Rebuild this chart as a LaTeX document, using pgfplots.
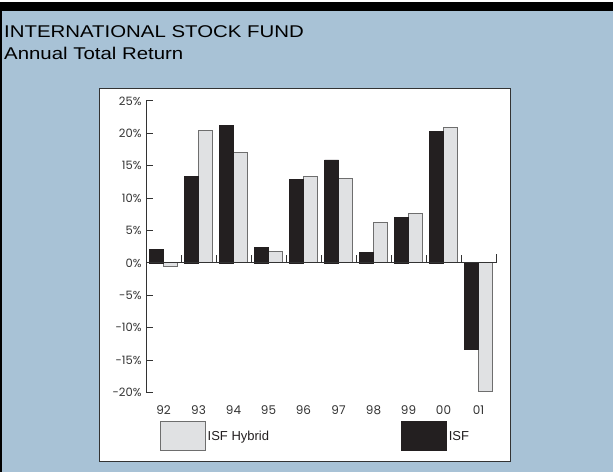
\documentclass[border=0pt]{standalone}
\usepackage{fontspec}
\setmainfont{Liberation Sans}
\newfontfamily\titlefont[FakeStretch=1.2]{Liberation Sans}
\newfontfamily\tickfont{Poppins}
\usepackage{pgfplots}
\pgfplotsset{compat=1.18}
\definecolor{bgblue}{HTML}{A8C2D6}
\definecolor{barblack}{HTML}{231F20}
\definecolor{bargray}{HTML}{E0E1E3}
\definecolor{edgegray}{HTML}{6E6E6E}
\definecolor{axisgray}{HTML}{333333}
\begin{document}
\begin{tikzpicture}[x=1bp,y=1bp]
% background
\fill[white] (0,0) rectangle (613,472);
\fill[bgblue] (0,0) rectangle (613,461);
\fill[black] (0,461) rectangle (613,470);
\fill[black] (0,0) rectangle (2,461);
% title
\node[anchor=base west, inner sep=0pt, font=\titlefont\fontsize{17bp}{18bp}\selectfont] at (4,434) {INTERNATIONAL STOCK FUND};
\node[anchor=base west, inner sep=0pt, font=\titlefont\fontsize{17bp}{18bp}\selectfont] at (4,412) {Annual Total Return};
% panel
\filldraw[fill=white, draw=axisgray, line width=1bp] (99,10) rectangle (510,383);
\begin{axis}[
  at={(146bp,79.4bp)}, anchor=south west,
  scale only axis, width=350bp, height=291.6bp,
  xmin=-0.5, xmax=9.5, ymin=-20, ymax=25,
  axis y line*=left, axis x line*=bottom,
  x axis line style={draw=none},
  y axis line style={draw=axisgray, line width=1bp},
  xtick={0,...,9},
  xticklabels={92,93,94,95,96,97,98,99,00,01},
  xtick style={draw=none},
  ytick={-20,-15,...,25},
  ytick style={draw=axisgray, line width=1bp},
  tick align=inside, major tick length=7bp,
  /pgf/number format/assume math mode=true,
  yticklabel={\pgfmathprintnumber{\tick}\%},
  yticklabel style={font=\tickfont\fontsize{11.5bp}{12bp}\selectfont, text=axisgray, xshift=-1bp},
  xticklabel style={font=\tickfont\fontsize{12bp}{13bp}\selectfont, text=axisgray, yshift=-3bp},
  ybar, bar width=14bp,
  clip=false,
  legend columns=2,
  legend style={draw=none, fill=none, at={(0.03,-0.15)}, anchor=west,
    font=\fontsize{13bp}{14bp}\selectfont, text=barblack,
    /tikz/every even column/.append style={column sep=130bp}},
  legend image code/.code={\draw[#1] (0bp,-14.5bp) rectangle (45bp,14.5bp);},
]
\addplot[bar shift=7bp, fill=bargray, draw=edgegray, line width=1bp] coordinates {
 (0,-0.6) (1,20.4) (2,17.1) (3,1.8) (4,13.4) (5,13.0) (6,6.2) (7,7.7) (8,20.9) (9,-19.9)};
\addlegendentry{ISF Hybrid}
\addplot[bar shift=-7bp, fill=barblack, draw=barblack, line width=0.8bp] coordinates {
 (0,2.1) (1,13.3) (2,21.2) (3,2.4) (4,12.9) (5,15.9) (6,1.6) (7,7.0) (8,20.3) (9,-13.3)};
\addlegendentry{ISF}
\draw[axisgray, line width=1bp] (axis cs:-0.5,0) -- (axis cs:9.5,0);
\draw[axisgray, line width=0.8bp] (axis cs:0.5,0) -- ++(0bp,7.5bp);
\draw[axisgray, line width=0.8bp] (axis cs:1.5,0) -- ++(0bp,7.5bp);
\draw[axisgray, line width=0.8bp] (axis cs:2.5,0) -- ++(0bp,7.5bp);
\draw[axisgray, line width=0.8bp] (axis cs:3.5,0) -- ++(0bp,7.5bp);
\draw[axisgray, line width=0.8bp] (axis cs:4.5,0) -- ++(0bp,7.5bp);
\draw[axisgray, line width=0.8bp] (axis cs:5.5,0) -- ++(0bp,7.5bp);
\draw[axisgray, line width=0.8bp] (axis cs:6.5,0) -- ++(0bp,7.5bp);
\draw[axisgray, line width=0.8bp] (axis cs:7.5,0) -- ++(0bp,7.5bp);
\draw[axisgray, line width=0.8bp] (axis cs:8.5,0) -- ++(0bp,7.5bp);
\draw[axisgray, line width=0.8bp] (axis cs:9.5,0) -- ++(0bp,8.5bp);
\end{axis}
\end{tikzpicture}
\end{document}
